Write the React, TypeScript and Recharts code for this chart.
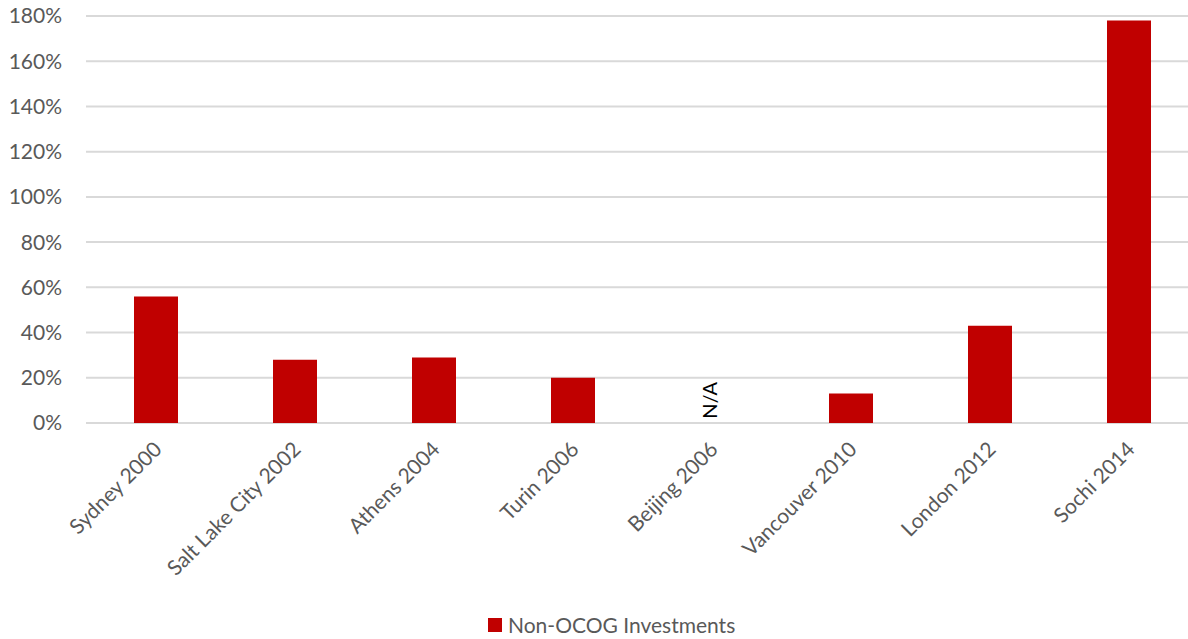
import React from "react";
import { BarChart, Bar, XAxis, YAxis, CartesianGrid, ReferenceDot } from "recharts";

const categories = [
  "Sydney 2000",
  "Salt Lake City 2002",
  "Athens 2004",
  "Turin 2006",
  "Beijing 2006",
  "Vancouver 2010",
  "London 2012",
  "Sochi 2014",
];
const investments: (number | null)[] = [0.56, 0.28, 0.29, 0.2, null, 0.13, 0.43, 1.78];
const yTicks = [0, 0.2, 0.4, 0.6, 0.8, 1.0, 1.2, 1.4, 1.6, 1.8];
const seriesName = "Non-OCOG Investments";
const naCategory = "Beijing 2006";
const naText = "N/A";

const data = categories.map((c, i) => ({ name: c, value: investments[i] }));

const FONT = "Lato, 'Open Sans', sans-serif";
const GRAY = "#595959";

const XTick = (props: any) => {
  const { x, y, payload } = props;
  return (
    <g transform={`translate(${x + 2},${y + 14})`}>
      <text
        x={0}
        y={0}
        dy={8}
        textAnchor="end"
        transform="rotate(-45)"
        fill={GRAY}
        fontSize={21}
        fontFamily={FONT}
      >
        {payload.value}
      </text>
    </g>
  );
};

const NALabel = (props: any) => {
  const { viewBox } = props;
  const cx = viewBox.x;
  const cy = viewBox.y;
  return (
    <text
      x={cx - 2}
      y={cy}
      transform={`rotate(-90, ${cx - 2}, ${cy})`}
      textAnchor="middle"
      dominantBaseline="central"
      fill="#000"
      fontSize={20}
      fontFamily={FONT}
    >
      {naText}
    </text>
  );
};

export default function App() {
  return (
    <div
      style={{
        position: "absolute",
        left: 0,
        top: 0,
        width: 1188,
        height: 639,
        background: "#fff",
        overflow: "hidden",
      }}
    >
      <BarChart
        width={1198}
        height={639}
        data={data}
        margin={{ top: 16, right: 0, left: 0, bottom: 0 }}
      >
        <CartesianGrid vertical={false} stroke="#d9d9d9" strokeWidth={2} />
        <YAxis
          width={86}
          domain={[0, 1.8]}
          ticks={yTicks}
          axisLine={false}
          tickLine={false}
          tickSize={0}
          tickMargin={24}
          tickFormatter={(v: number) => `${Math.round(v * 100)}%`}
          tick={{ fill: GRAY, fontSize: 21, fontFamily: FONT }}
          interval={0}
        />
        <XAxis
          dataKey="name"
          axisLine={false}
          tickLine={false}
          interval={0}
          tick={<XTick />}
          height={216}
        />
        <Bar dataKey="value" name={seriesName} fill="#C00000" barSize={44} isAnimationActive={false} />
        <ReferenceDot x={naCategory} y={0.1} r={0} fill="none" stroke="none" label={<NALabel />} />
      </BarChart>
      <div
        style={{
          position: "absolute",
          left: 488,
          top: 612,
          display: "flex",
          alignItems: "center",
          fontFamily: FONT,
          fontSize: 21,
          color: GRAY,
          whiteSpace: "nowrap",
        }}
      >
        <span style={{ display: "inline-block", width: 14, height: 14, background: "#C00000", marginRight: 6 }} />
        <span>{seriesName}</span>
      </div>
    </div>
  );
}
